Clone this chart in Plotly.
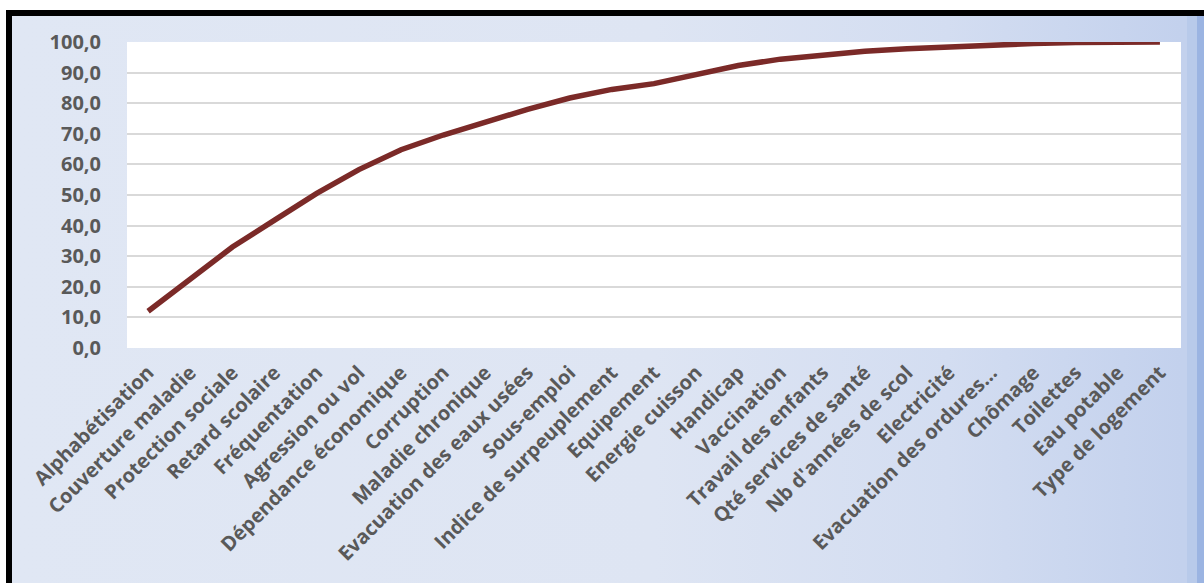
import base64
import plotly.graph_objects as go

categories = [
    "Alphabétisation", "Couverture maladie", "Protection sociale", "Retard scolaire",
    "Fréquentation", "Agression ou vol", "Dépendance économique", "Corruption",
    "Maladie chronique", "Evacuation des eaux usées", "Sous-emploi",
    "Indice de surpeuplement", "Equipement", "Energie cuisson", "Handicap",
    "Vaccination", "Travail des enfants", "Qté services de santé",
    "Nb d'années de scol", "Electricité", "Evacuation des ordures…", "Chômage",
    "Toilettes", "Eau potable", "Type de logement",
]
cumulative_pct = [
    12.0, 22.3, 33.0, 41.8, 50.5, 58.3, 64.8, 69.6, 74.0, 78.0, 81.7, 84.5,
    86.4, 89.3, 92.3, 94.4, 95.8, 97.0, 97.8, 98.5, 99.1, 99.5, 99.8, 99.9, 100.0,
]
y_ticks = [0, 10, 20, 30, 40, 50, 60, 70, 80, 90, 100]

W, H = 1204, 583
ML, MR, MT, MB = 127, W - 1181, 42, H - 348
PW, PH = W - ML - MR, H - MT - MB

svg = f'''<svg xmlns="http://www.w3.org/2000/svg" width="{W}" height="{H}" viewBox="0 0 {W} {H}" preserveAspectRatio="none">
<defs><linearGradient id="g" x1="0" y1="0" x2="1" y2="0">
<stop offset="0" stop-color="#e0e7f4"/><stop offset="0.55" stop-color="#dee5f3"/>
<stop offset="0.8" stop-color="#d3ddf1"/><stop offset="1" stop-color="#c3d1ed"/></linearGradient></defs>
<rect x="0" y="0" width="{W}" height="{H}" fill="#ffffff"/>
<rect x="12" y="16" width="1169" height="567" fill="url(#g)"/>
<rect x="1181" y="16" width="6" height="567" fill="#c3d1ed"/>
<rect x="1187" y="16" width="10" height="567" fill="#b8caea"/>
<rect x="1197" y="16" width="7" height="567" fill="#9bb4e2"/>
<rect x="6" y="10" width="1198" height="6" fill="#000000"/>
<rect x="6" y="10" width="6" height="573" fill="#000000"/>
<rect x="{ML}" y="{MT}" width="{PW}" height="{PH}" fill="#ffffff"/>
</svg>'''
src = "data:image/svg+xml;base64," + base64.b64encode(svg.encode("utf-8")).decode("ascii")

idx = list(range(len(categories)))
font_x = dict(family="Open Sans", size=20, color="#595959", weight="bold")
font_y = dict(family="Open Sans", size=20, color="#595959", weight="bold")

fig = go.Figure()
fig.add_trace(go.Scatter(
    x=idx, y=cumulative_pct, mode="lines",
    line=dict(color="#7b2a28", width=5.5),
    hoverinfo="skip", showlegend=False,
))

fig.update_layout(
    width=W, height=H,
    margin=dict(l=ML, r=MR, t=MT, b=MB, pad=0),
    paper_bgcolor="#ffffff",
    plot_bgcolor="rgba(0,0,0,0)",
    separators=", ",
    images=[dict(
        source=src, xref="paper", yref="paper",
        x=-ML / PW, y=1 + MT / PH, sizex=W / PW, sizey=H / PH,
        xanchor="left", yanchor="top", sizing="stretch", layer="below",
    )],
    xaxis=dict(
        range=[-0.5, len(idx) - 0.5], tickmode="array",
        tickvals=idx, ticktext=categories, tickangle=-45,
        tickfont=font_x, showgrid=False, zeroline=False,
        ticks="", showline=False, ticklabelstandoff=8,
    ),
    yaxis=dict(
        range=[0, 100], tickmode="array", tickvals=y_ticks,
        tickformat=".1f", tickfont=font_y,
        showgrid=True, gridcolor="#d9d9d9", gridwidth=2,
        zeroline=False, showline=False, ticks="", ticklabelstandoff=25,
    ),
)

fig.write_html("out.html")
